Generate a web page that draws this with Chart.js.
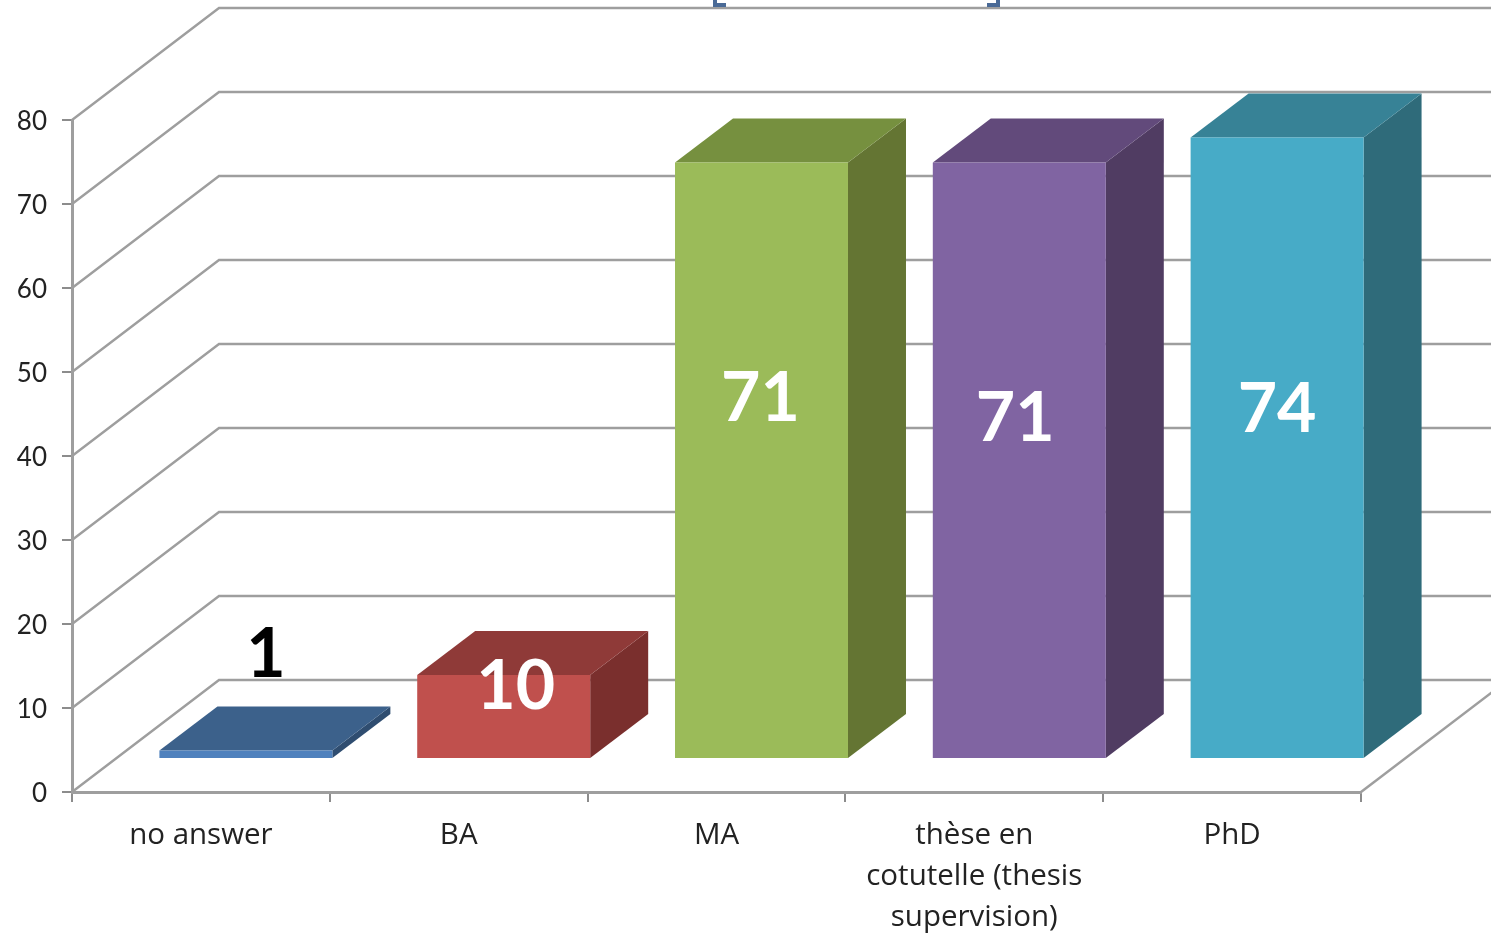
<!DOCTYPE html>
<html><head><meta charset="utf-8">
<style>html,body{margin:0;padding:0;background:#fff;overflow:hidden}canvas{display:block;filter:blur(0.5px)}</style>
<script src="https://cdn.jsdelivr.net/npm/chart.js@4"></script></head>
<body><canvas id="c" width="1491" height="934"></canvas>
<script>
const categories = ["no answer", "BA", "MA", ["thèse en", "cotutelle (thesis", "supervision)"], "PhD"];
const values = [1, 10, 71, 71, 74];
const yMax = 80, yStep = 10;
const frontColors = ["#4f81bd", "#c0504d", "#9bbb59", "#8064a2", "#47abc7"];
const topColors = ["#3c618b", "#8f3a38", "#76903f", "#624a7b", "#378296"];
const sideColors = ["#2f4d70", "#7a2f2d", "#647533", "#503c62", "#2f6b7a"];
const labelColors = ["#000000", "#ffffff", "#ffffff", "#ffffff", "#ffffff"];
const labelNudgeX = [20, 12, -1, -4, 0];
const labelNudgeY = [-99, -29, -61, -41, -38];

const GRID = "#9e9e9e";
const FONT = "Lato, Carlito, sans-serif";
const XFONT = "'Open Sans', sans-serif";
const wall = {dx: 147, dy: 112};
const depth = {dx: 58, dy: 44};
const shift = {dx: 45, dy: 33};

function poly(ctx, pts, fill) {
  ctx.beginPath();
  pts.forEach((p, i) => i ? ctx.lineTo(p[0], p[1]) : ctx.moveTo(p[0], p[1]));
  ctx.closePath();
  ctx.fillStyle = fill;
  ctx.fill();
}

const threeD = {
  id: "threeD",
  beforeDatasetsDraw(chart) {
    const {ctx, scales: {x, y}, chartArea: a} = chart;
    ctx.save();
    ctx.strokeStyle = GRID;
    ctx.lineWidth = 2.4;
    y.ticks.forEach(t => {
      const py = y.getPixelForValue(t.value);
      ctx.beginPath();
      ctx.moveTo(a.left, py);
      ctx.lineTo(a.left + wall.dx, py - wall.dy);
      ctx.lineTo(chart.width, py - wall.dy);
      ctx.stroke();
    });
    ctx.beginPath();
    ctx.moveTo(a.right, a.bottom);
    ctx.lineTo(a.right + wall.dx, a.bottom - wall.dy);
    ctx.stroke();
    ctx.restore();

    ctx.save();
    ctx.translate(shift.dx, -shift.dy);
    chart.getDatasetMeta(0).data.forEach((el, i) => {
      const l = el.x - el.width / 2, r = el.x + el.width / 2, t = el.y, b = el.base;
      poly(ctx, [[r, t], [r + depth.dx, t - depth.dy], [r + depth.dx, b - depth.dy], [r, b]], sideColors[i]);
      poly(ctx, [[l, t], [l + depth.dx, t - depth.dy], [r + depth.dx, t - depth.dy], [r, t]], topColors[i]);
    });
  },
  afterDatasetsDraw(chart) {
    const {ctx} = chart;
    ctx.restore();
    ctx.save();
    ctx.textAlign = "center";
    ctx.textBaseline = "middle";
    ctx.font = "bold 68px " + FONT;
    chart.getDatasetMeta(0).data.forEach((el, i) => {
      ctx.fillStyle = labelColors[i];
      const mid = (el.y + el.base) / 2 - shift.dy;
      ctx.fillText(String(values[i]), el.x + shift.dx + labelNudgeX[i], mid + labelNudgeY[i]);
    });
    ctx.restore();
  },
  afterDraw(chart) {
    const {ctx} = chart;
    ctx.save();
    ctx.strokeStyle = "#4a6a96";
    ctx.lineWidth = 4;
    ctx.beginPath();
    ctx.moveTo(715, 0); ctx.lineTo(715, 5); ctx.lineTo(726, 5);
    ctx.moveTo(998, 0); ctx.lineTo(998, 5); ctx.lineTo(987, 5);
    ctx.stroke();
    ctx.restore();
  }
};

new Chart(document.getElementById("c"), {
  type: "bar",
  data: {labels: categories, datasets: [{data: values, backgroundColor: frontColors, borderWidth: 0, clip: false, barPercentage: 0.671, categoryPercentage: 1}]},
  plugins: [threeD],
  options: {
    responsive: false,
    animation: false,
    layout: {autoPadding: false, padding: {top: 120, right: 130, left: 0, bottom: 0}},
    plugins: {legend: {display: false}, tooltip: {enabled: false}, title: {display: false}},
    scales: {
      x: {
        afterFit(s) { s.height = 142; },
        border: {display: true, color: GRID, width: 3},
        grid: {display: true, drawOnChartArea: false, drawTicks: true, tickLength: 10, color: "#8c8c8c", lineWidth: 2, offset: true},
        ticks: {padding: 13, maxRotation: 0, autoSkip: false, color: "#222222", font: {family: XFONT, size: 29.5, lineHeight: "41px"}}
      },
      y: {
        min: 0, max: yMax,
        afterFit(s) { s.width = 72; },
        border: {display: true, color: GRID, width: 3},
        grid: {display: true, drawOnChartArea: false, drawTicks: true, tickLength: 10, color: "#8c8c8c", lineWidth: 2},
        ticks: {stepSize: yStep, padding: 15, labelOffset: 2, color: "#222222", font: {family: FONT, size: 26}}
      }
    }
  }
});
</script></body></html>
